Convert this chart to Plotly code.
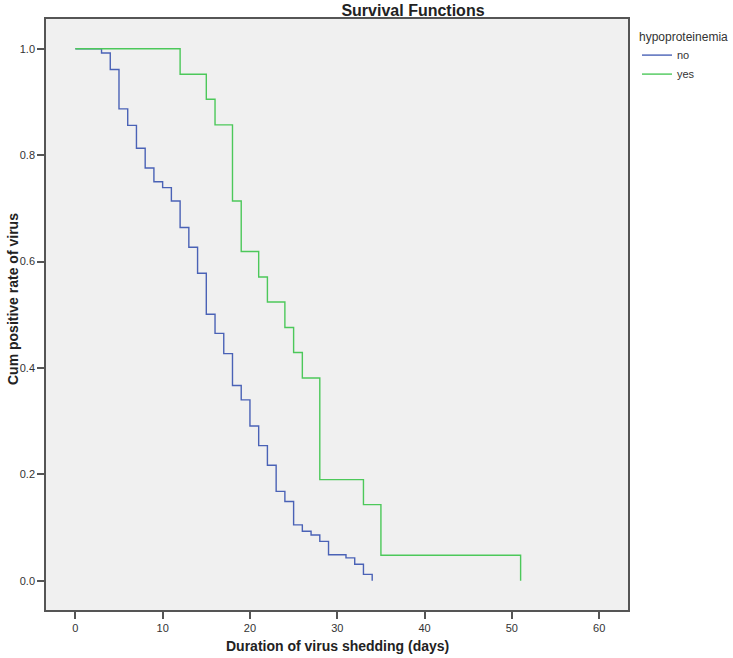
import plotly.graph_objects as go

# dias de eliminacao do virus e taxa acumulada
dias_no = [0, 3, 4, 5, 6, 7, 8, 9, 10, 11, 12, 13, 14, 15, 16, 17, 18, 19, 20,
           21, 22, 23, 24, 25, 26, 27, 28, 29, 31, 32, 33, 34]
taxa_no = [1.0, 0.992, 0.961, 0.887, 0.856, 0.813, 0.776, 0.750, 0.739, 0.714,
           0.664, 0.627, 0.578, 0.501, 0.465, 0.427, 0.367, 0.340, 0.291, 0.254,
           0.217, 0.168, 0.149, 0.105, 0.093, 0.086, 0.074, 0.049, 0.043, 0.031,
           0.012, 0.0]

dias_yes = [0, 12, 15, 16, 18, 19, 21, 22, 24, 25, 26, 28, 33, 35, 51]
taxa_yes = [1.0, 0.952, 0.905, 0.857, 0.714, 0.619, 0.571, 0.524, 0.476, 0.429,
            0.381, 0.190, 0.143, 0.048, 0.0]

ticks_x = [0, 10, 20, 30, 40, 50, 60]
ticks_y = [0.0, 0.2, 0.4, 0.6, 0.8, 1.0]

fonte = 'Liberation Sans Narrow, Liberation Sans, Arial, sans-serif'

fig = go.Figure()
fig.add_trace(go.Scatter(x=dias_no, y=taxa_no, mode='lines', name='no',
                         line=dict(color='#4a62b6', width=1.4, shape='hv')))
fig.add_trace(go.Scatter(x=dias_yes, y=taxa_yes, mode='lines', name='yes',
                         line=dict(color='#4cc85a', width=1.4, shape='hv')))

fig.update_layout(
    width=733, height=658,
    margin=dict(l=46, r=105, t=19, b=48, autoexpand=False),
    paper_bgcolor='white',
    plot_bgcolor='#f0f0f0',
    font=dict(family=fonte, size=11, color='#333333'),
    title=dict(text='<b>Survival Functions</b>', x=413 / 733, xanchor='center',
               y=1 - 10 / 658, yanchor='middle',
               font=dict(family=fonte, size=16, color='#222222')),
    showlegend=True,
    legend=dict(x=1.0 + 9 / 582, xanchor='left', y=1.0 - 6 / 591, yanchor='top',
                xref='paper', yref='paper',
                bgcolor='rgba(0,0,0,0)', itemwidth=30,
                title=dict(text='hypoproteinemia', font=dict(size=12, color='#333333')),
                font=dict(size=11, color='#333333'),
                tracegroupgap=0),
    xaxis=dict(range=[-3.36, 63.3], tickvals=ticks_x, showgrid=False, zeroline=False,
               showline=True, mirror=True, linecolor='#555555', linewidth=1.5,
               ticks='outside', ticklen=7, tickcolor='#555555', tickwidth=1.5,
               tickfont=dict(color='#333333', size=11)),
    yaxis=dict(range=[-0.055, 1.056], tickvals=ticks_y, tickformat='.1f',
               showgrid=False, zeroline=False,
               showline=True, mirror=True, linecolor='#555555', linewidth=1.5,
               ticks='outside', ticklen=7, tickcolor='#555555', tickwidth=1.5,
               tickfont=dict(color='#333333', size=11)),
    annotations=[
        dict(text='<b>Duration of virus shedding (days)</b>', x=0.5, y=0,
             xref='paper', yref='paper', xanchor='center', yanchor='top',
             yshift=-26, showarrow=False, font=dict(family=fonte, size=14, color='#222222')),
        dict(text='<b>Cum positive rate of virus</b>', x=0, y=(610 - 299) / 591,
             xref='paper', yref='paper', xanchor='center', yanchor='middle',
             xshift=-33, textangle=-90, showarrow=False,
             font=dict(family=fonte, size=14, color='#222222')),
    ],
)

# sem margem da pagina, para a figura ocupar a janela toda
fig.write_html("out.html", config={'displayModeBar': False},
               post_script="document.body.style.margin='0';")
